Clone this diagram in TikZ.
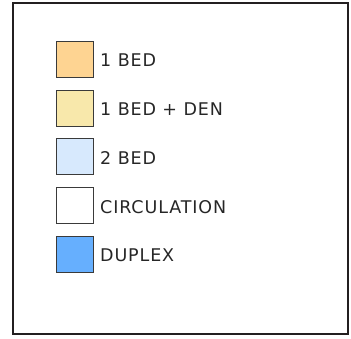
\documentclass[tikz,border=0pt]{standalone}
\usepackage{fontspec}
\setmainfont[LetterSpace=5]{DejaVu Sans}
\definecolor{frame}{HTML}{231F20}
\definecolor{swline}{HTML}{3A3A3A}
\definecolor{onebed}{HTML}{FED492}
\definecolor{onebedden}{HTML}{F8E8AB}
\definecolor{twobed}{HTML}{D7E9FD}
\definecolor{circ}{HTML}{FFFFFF}
\definecolor{duplex}{HTML}{66AFFE}
\definecolor{txt}{HTML}{262626}
\tikzset{
  swatch/.style={draw=swline, line width=1pt, minimum width=37pt, minimum height=36pt, inner sep=0pt, anchor=north west},
  label/.style={anchor=base west, inner sep=0pt, text=txt, font=\fontsize{17.5pt}{20pt}\selectfont},
  framebox/.style={draw=frame, line width=2.5pt}
}
\begin{document}
\begin{tikzpicture}[x=1pt,y=-1pt]
\useasboundingbox (0,0) rectangle (351,339);
\draw[framebox] (13,3) rectangle (347.8,333.8);
\node[swatch, fill=onebed] (s1) at (55.5,41) {};
\node[swatch, fill=onebedden] (s2) at (55.5,89.75) {};
\node[swatch, fill=twobed] (s3) at (55.5,138.5) {};
\node[swatch, fill=circ] (s4) at (55.5,187.25) {};
\node[swatch, fill=duplex] (s5) at (55.5,236) {};
\node[label] (t1) at (100,67) {1 BED};
\node[label] (t2) at (100,115.75) {1 BED + DEN};
\node[label] (t3) at (100,164.5) {2 BED};
\node[label] (t4) at (100,213.25) {CIRCULATION};
\node[label] (t5) at (100,262) {DUPLEX};
\end{tikzpicture}
\end{document}
